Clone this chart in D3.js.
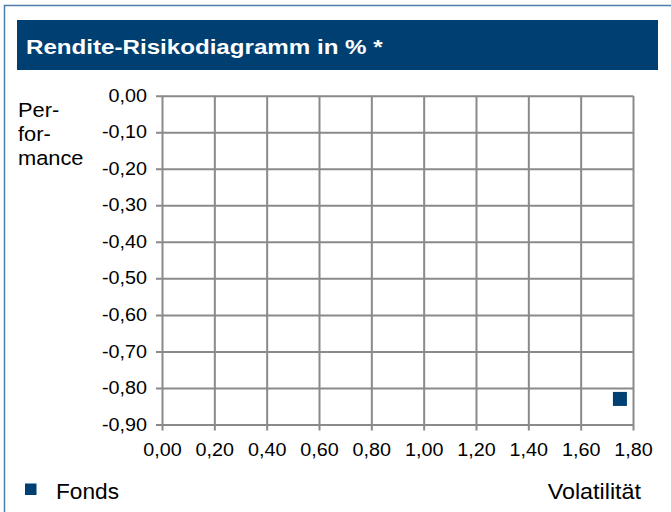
<!DOCTYPE html>
<html>
<head>
<meta charset="utf-8">
<script src="https://cdn.jsdelivr.net/npm/d3@7"></script>
<style>
  html, body { margin: 0; padding: 0; background: #ffffff; }
  svg { display: block; }
  text { font-family: "Liberation Sans", Arial, Helvetica, sans-serif; fill: #000; }
</style>
</head>
<body>
<svg id="chart" width="671" height="512"></svg>
<script>
// ---- data ----
const titleText = "Rendite-Risikodiagramm in % *";
const yAxisLabelLines = ["Per-", "for-", "mance"];
const xAxisLabel = "Volatilität";
const seriesNames = ["Fonds"];
const volatility = [1.75];
const performance = [-0.83];
const xTicks = [0, 0.2, 0.4, 0.6, 0.8, 1.0, 1.2, 1.4, 1.6, 1.8];
const yTicks = [0, -0.1, -0.2, -0.3, -0.4, -0.5, -0.6, -0.7, -0.8, -0.9];

// ---- setup ----
const W = 671, H = 512;
const svg = d3.select("#chart");
const navy = "#003f72";
const gridCol = "#8a8a8a";
const de = d3.formatLocale({ decimal: ",", thousands: ".", grouping: [3], currency: ["", " €"], minus: "-" });
const fmt = de.format(".2f");

svg.append("rect").attr("width", W).attr("height", H).attr("fill", "#fff");

// outer frame (left + top)
svg.append("path")
  .attr("d", "M4.5,512 V5.5 H671")
  .attr("fill", "none").attr("stroke", "#4f7cab").attr("stroke-width", 1.5);

// title bar
svg.append("rect").attr("x", 17).attr("y", 20).attr("width", 641).attr("height", 50).attr("fill", navy);

function stretchText(x, y, str, size, sx, anchor, weight, fill) {
  return svg.append("text")
    .attr("transform", `translate(${x},${y}) scale(${sx},1)`)
    .attr("text-anchor", anchor || "start")
    .attr("font-size", size)
    .attr("font-weight", weight || "normal")
    .style("fill", fill || "#000")
    .text(str);
}
stretchText(26, 53.5, titleText, 21, 1.15, "start", "bold", "#ffffff");

// scales
const x = d3.scaleLinear().domain([0, 1.8]).range([162, 633]);
const y = d3.scaleLinear().domain([-0.9, 0]).range([424.5, 95.7]);
const tickOut = 6;
const sxAxis = 1.13;

// y axis (ticks stretched across plot as gridlines)
const yLen = x(1.8) - x(0) + tickOut;
const yPad = 9;
const gy = svg.append("g")
  .attr("transform", `translate(${x(1.8)},0)`)
  .call(d3.axisLeft(y).tickValues(yTicks).tickSize(yLen).tickSizeOuter(0).tickPadding(yPad).tickFormat(fmt));
gy.select(".domain").remove();
gy.selectAll(".tick line").attr("stroke", gridCol).attr("stroke-width", 2);
gy.selectAll(".tick text")
  .attr("font-size", 17.5)
  .attr("font-family", null)
  .attr("x", -(yLen + yPad) / sxAxis)
  .attr("transform", `scale(${sxAxis},1)`)
  .style("fill", "#000");

// x axis (ticks stretched across plot as gridlines)
const xLen = y(-0.9) - y(0) + tickOut;
const gx = svg.append("g")
  .attr("transform", `translate(0,${y(0)})`)
  .call(d3.axisBottom(x).tickValues(xTicks).tickSize(xLen).tickSizeOuter(0).tickPadding(13.3).tickFormat(fmt));
gx.select(".domain").remove();
gx.selectAll(".tick line").attr("stroke", gridCol).attr("stroke-width", 2);
gx.selectAll(".tick text")
  .attr("font-size", 17.5)
  .attr("font-family", null)
  .attr("transform", `scale(${sxAxis},1)`)
  .style("fill", "#000");

// y axis label
yAxisLabelLines.forEach((s, i) => stretchText(18, 117 + i * 24, s, 19.5, 1.12, "start"));

// x axis label
stretchText(641, 498.5, xAxisLabel, 22, 1.06, "end");

// data points
const ms = 14;
svg.append("g").selectAll("rect")
  .data(volatility.map((v, i) => ({ v, p: performance[i], name: seriesNames[i] })))
  .join("rect")
  .attr("x", d => x(d.v) - ms / 2)
  .attr("y", d => y(d.p) - ms / 2)
  .attr("width", ms).attr("height", ms)
  .attr("fill", navy);

// legend
const lg = svg.append("g");
seriesNames.forEach((n, i) => {
  lg.append("rect").attr("x", 25).attr("y", 483.5).attr("width", 11.5).attr("height", 11.5).attr("fill", navy);
  stretchText(56, 499, n, 22, 1.03, "start");
});
</script>
</body>
</html>
